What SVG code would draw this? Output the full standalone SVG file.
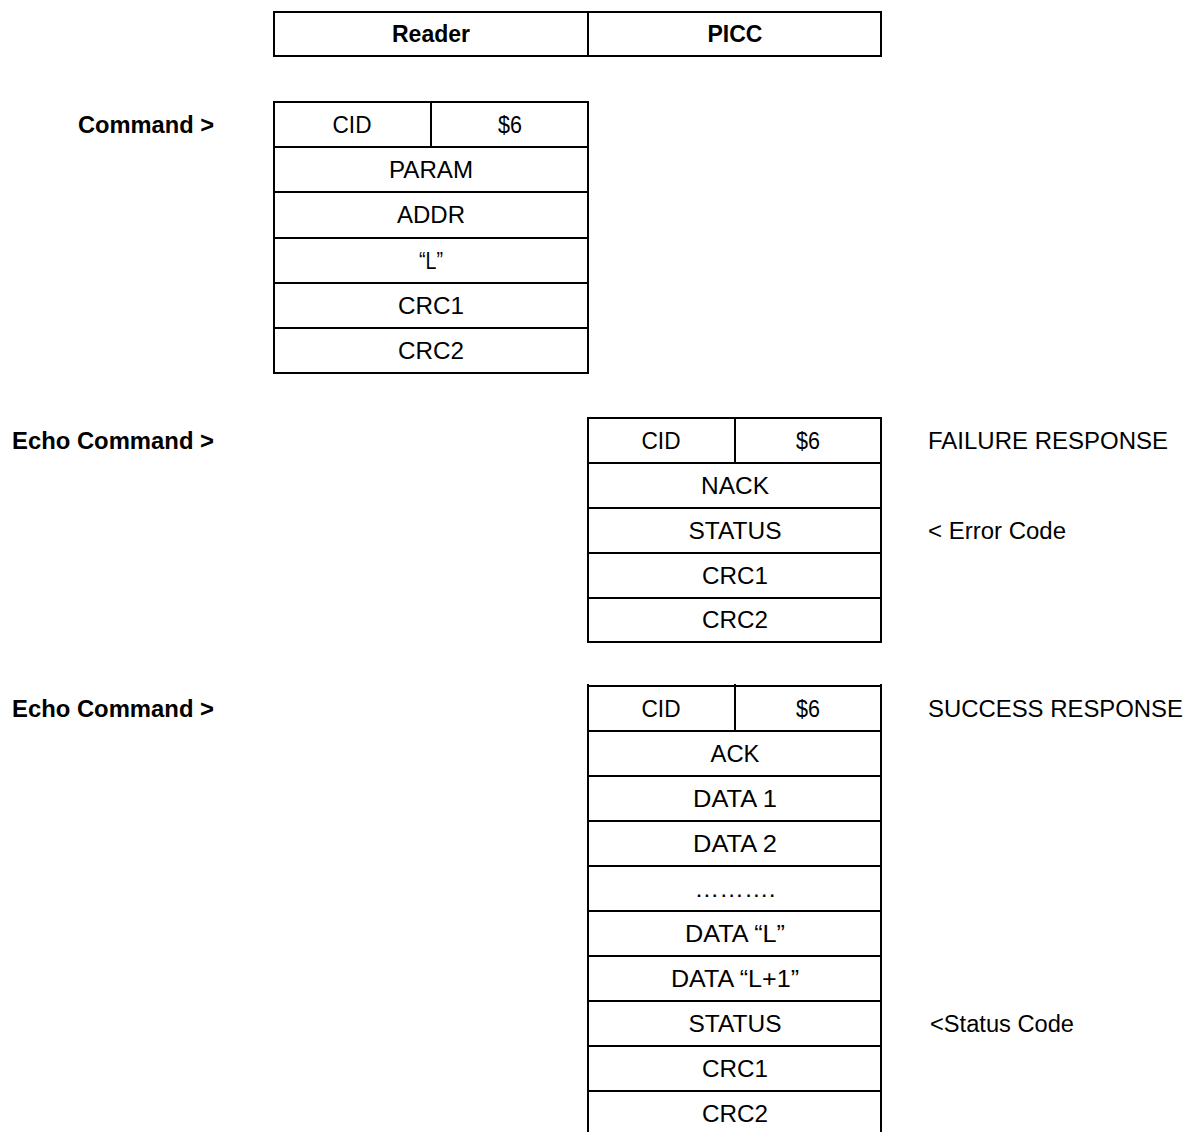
<svg xmlns="http://www.w3.org/2000/svg" width="1188" height="1132" viewBox="0 0 1188 1132">
<style>
.ln{stroke:#000;stroke-width:2;fill:none}
.bx{stroke:#000;stroke-width:2;fill:#fff}
text{font-family:"Liberation Sans",Arial,sans-serif;font-size:23px;fill:#000}
.t{text-anchor:middle}
.b{font-weight:bold}
</style>
<rect width="1188" height="1132" fill="#fff"/>
<g id="header">
<rect class="bx" x="274" y="12" width="607" height="44"/>
<line class="ln" x1="588" y1="12" x2="588" y2="56"/>
<text class="b t" x="431" y="42" textLength="78" lengthAdjust="spacingAndGlyphs">Reader</text>
<text class="b t" x="735" y="42" textLength="55" lengthAdjust="spacingAndGlyphs">PICC</text>
</g>
<g id="labels">
<text class="b" x="78" y="133" textLength="136" lengthAdjust="spacingAndGlyphs">Command &gt;</text>
<text class="b" x="12" y="449" textLength="202" lengthAdjust="spacingAndGlyphs">Echo Command &gt;</text>
<text class="b" x="12" y="717" textLength="202" lengthAdjust="spacingAndGlyphs">Echo Command &gt;</text>
<text x="928" y="449" textLength="240" lengthAdjust="spacingAndGlyphs">FAILURE RESPONSE</text>
<text x="928" y="539" textLength="138" lengthAdjust="spacingAndGlyphs">&lt; Error Code</text>
<text x="928" y="717" textLength="255" lengthAdjust="spacingAndGlyphs">SUCCESS RESPONSE</text>
<text x="930" y="1032" textLength="144" lengthAdjust="spacingAndGlyphs">&lt;Status Code</text>
</g>
<g id="command">
<rect class="bx" x="274" y="102" width="314" height="271"/>
<line class="ln" x1="274" y1="147" x2="588" y2="147"/>
<line class="ln" x1="274" y1="192" x2="588" y2="192"/>
<line class="ln" x1="274" y1="238" x2="588" y2="238"/>
<line class="ln" x1="274" y1="283" x2="588" y2="283"/>
<line class="ln" x1="274" y1="328" x2="588" y2="328"/>
<line class="ln" x1="431" y1="102" x2="431" y2="147"/>
<text class="t" x="352" y="133" textLength="39" lengthAdjust="spacingAndGlyphs">CID</text>
<text class="t" x="510" y="133" textLength="24" lengthAdjust="spacingAndGlyphs">$6</text>
<text class="t" x="431" y="178" textLength="84" lengthAdjust="spacingAndGlyphs">PARAM</text>
<text class="t" x="431" y="223" textLength="68" lengthAdjust="spacingAndGlyphs">ADDR</text>
<text class="t" x="431" y="269" textLength="24" lengthAdjust="spacingAndGlyphs">“L”</text>
<text class="t" x="431" y="314" textLength="66" lengthAdjust="spacingAndGlyphs">CRC1</text>
<text class="t" x="431" y="359" textLength="66" lengthAdjust="spacingAndGlyphs">CRC2</text>
</g>
<g id="failure">
<rect class="bx" x="588" y="418" width="293" height="224"/>
<line class="ln" x1="588" y1="463" x2="881" y2="463"/>
<line class="ln" x1="588" y1="508" x2="881" y2="508"/>
<line class="ln" x1="588" y1="553" x2="881" y2="553"/>
<line class="ln" x1="588" y1="598" x2="881" y2="598"/>
<line class="ln" x1="735" y1="418" x2="735" y2="463"/>
<text class="t" x="661" y="449" textLength="39" lengthAdjust="spacingAndGlyphs">CID</text>
<text class="t" x="808" y="449" textLength="24" lengthAdjust="spacingAndGlyphs">$6</text>
<text class="t" x="735" y="494" textLength="68" lengthAdjust="spacingAndGlyphs">NACK</text>
<text class="t" x="735" y="539" textLength="93" lengthAdjust="spacingAndGlyphs">STATUS</text>
<text class="t" x="735" y="584" textLength="66" lengthAdjust="spacingAndGlyphs">CRC1</text>
<text class="t" x="735" y="628" textLength="66" lengthAdjust="spacingAndGlyphs">CRC2</text>
</g>
<g id="success">
<line class="ln" x1="588" y1="684" x2="588" y2="1132"/>
<line class="ln" x1="881" y1="684" x2="881" y2="1132"/>
<line class="ln" x1="735" y1="684" x2="735" y2="731"/>
<line class="ln" x1="587" y1="686" x2="882" y2="686"/>
<line class="ln" x1="588" y1="731" x2="881" y2="731"/>
<line class="ln" x1="588" y1="776" x2="881" y2="776"/>
<line class="ln" x1="588" y1="821" x2="881" y2="821"/>
<line class="ln" x1="588" y1="866" x2="881" y2="866"/>
<line class="ln" x1="588" y1="911" x2="881" y2="911"/>
<line class="ln" x1="588" y1="956" x2="881" y2="956"/>
<line class="ln" x1="588" y1="1001" x2="881" y2="1001"/>
<line class="ln" x1="588" y1="1046" x2="881" y2="1046"/>
<line class="ln" x1="588" y1="1091" x2="881" y2="1091"/>
<text class="t" x="661" y="717" textLength="39" lengthAdjust="spacingAndGlyphs">CID</text>
<text class="t" x="808" y="717" textLength="24" lengthAdjust="spacingAndGlyphs">$6</text>
<text class="t" x="735" y="762" textLength="49" lengthAdjust="spacingAndGlyphs">ACK</text>
<text class="t" x="735" y="807" textLength="84" lengthAdjust="spacingAndGlyphs">DATA 1</text>
<text class="t" x="735" y="852" textLength="84" lengthAdjust="spacingAndGlyphs">DATA 2</text>
<text class="t" x="735" y="897" textLength="81" lengthAdjust="spacingAndGlyphs">……….</text>
<text class="t" x="735" y="942" textLength="100" lengthAdjust="spacingAndGlyphs">DATA “L”</text>
<text class="t" x="735" y="987" textLength="128" lengthAdjust="spacingAndGlyphs">DATA “L+1”</text>
<text class="t" x="735" y="1032" textLength="93" lengthAdjust="spacingAndGlyphs">STATUS</text>
<text class="t" x="735" y="1077" textLength="66" lengthAdjust="spacingAndGlyphs">CRC1</text>
<text class="t" x="735" y="1122" textLength="66" lengthAdjust="spacingAndGlyphs">CRC2</text>
</g>
</svg>
